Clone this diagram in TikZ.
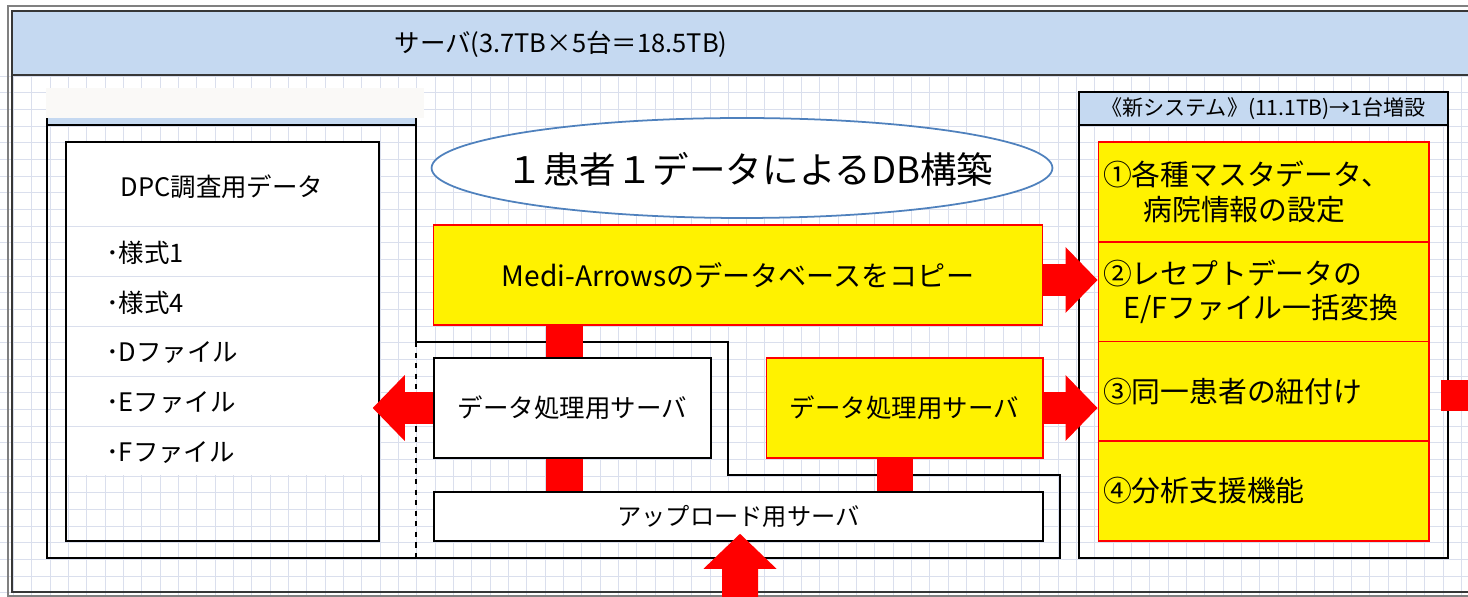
\documentclass[tikz,border=0pt]{standalone}
\usepackage{fontspec}
\setmainfont{Noto Sans CJK JP}
\usetikzlibrary{shapes.geometric,arrows.meta,calc}
\definecolor{hdrblue}{RGB}{197,217,241}
\definecolor{gridc}{RGB}{218,223,237}
\definecolor{ellblue}{RGB}{79,129,189}
\definecolor{framegray}{RGB}{55,55,55}
\definecolor{patch}{RGB}{250,249,247}

\begin{document}
\begin{tikzpicture}[x=0.02cm,y=-0.02cm,
        gridline/.style={draw=gridc,line width=0.5pt},
        box/.style={draw=black,line width=0.9pt,fill=white,minimum height=2cm,inner sep=0pt,font=\fontsize{14.5}{17}\selectfont},
        ybox/.style={box,draw=red,line width=0.6pt,fill=yellow},
        cell/.style={draw=red,line width=0.6pt,fill=yellow,minimum height=2cm,text width=6.42cm,inner xsep=1mm,inner ysep=0pt,align=left,font=\fontsize{16.4}{19.5}\selectfont},
        item/.style={anchor=west,font=\fontsize{14.5}{17}\selectfont},
        redbar/.style={draw=red,line width=7.3mm},
        bigarrow/.style={draw=red,line width=6.4mm,-{Triangle[length=6.4mm,width=13.2mm,line width=0pt]}}]
            \clip (0,0) rectangle (1468,597);
            \fill[white] (0,0) rectangle (1468,597);
            \foreach \gx in {0,...,80}
                \draw[gridline] ({13.4+18.33*\gx},76) -- ({13.4+18.33*\gx},600);
            \foreach \gy in {0,...,31}
                \draw[gridline] (0,{76+16.667*\gy}) -- (1468,{76+16.667*\gy});
            \fill[hdrblue] (12,11) rectangle (1490,75);
            \draw[framegray,line width=0.9pt] (12,75) -- (1490,75);
            \draw[gray,line width=0.6pt] (8,6) rectangle (1490,596);
            \draw[framegray,line width=1.2pt] (12,11) rectangle (1490,592);
            \node[font=\fontsize{14.5}{17}\selectfont] (title) at (561,44) {サーバ(3.7TB×5台＝18.5TB)};

            \draw[fill=hdrblue,line width=0.9pt] (47,92) rectangle (416,125);
            \fill[patch] (46,88) rectangle (424,118);
            \draw[line width=0.9pt] (47,125) -- (416,125) -- (416,342) -- (728,342) -- (728,475) -- (1060,475) -- (1060,558) -- (47,558) -- cycle;
            \draw[dashed,line width=0.6pt] (416,342) -- (416,558);

            \fill[white] (66,142) rectangle (379,475);
            \foreach \ry in {226,276,...,426}
                \draw[gridline] (67,\ry) -- (378,\ry);
            \node[draw,line width=0.9pt,minimum width=6.26cm,minimum height=7.98cm,inner sep=0pt] (dpc) at (222.5,341.5) {};
            \node[font=\fontsize{14.5}{17}\selectfont] (dpct) at (222,187) {DPC調査用データ};
            \foreach \t [count=\i] in {様式1,様式4,Dファイル,Eファイル,Fファイル}
                \node[item] (it\i) at (100,{203+50*\i}) {･\t};

            \node[ellipse,draw=ellblue,line width=1pt,fill=white,minimum width=12.42cm,minimum height=2cm,inner sep=0pt] (goal) at (742,168) {};
            \node[font=\fontsize{20.8}{24}\selectfont] (goalt) at (750,169) {１患者１データによるDB構築};
            \node[ybox,minimum width=12.2cm,font=\fontsize{16}{18}\selectfont] (medi) at (738,275) {Medi-Arrowsのデータベースをコピー};
            \node[box,minimum width=5.54cm] (proc1) at (572.5,408) {データ処理用サーバ};
            \node[ybox,minimum width=5.54cm] (proc2) at (904.5,408) {データ処理用サーバ};
            \node[box,minimum width=12.18cm,minimum height=0.98cm,font=\fontsize{13.8}{16}\selectfont] (upload) at (738.5,516.5) {アップロード用サーバ};

            \node[draw,line width=0.9pt,minimum width=7.38cm,minimum height=9.32cm,inner sep=0pt] (sys) at (1263.5,325) {};
            \node[draw,fill=hdrblue,line width=0.9pt,minimum width=7.38cm,minimum height=0.66cm,inner sep=0pt,font=\fontsize{12}{14}\selectfont] (sysh) at (1263.5,108.5) {《新システム》(11.1TB)→1台増設};
            \node[cell] (c1) at (1263.5,192) {①各種マスタデータ、\\\hspace*{1.4em}病院情報の設定};
            \node[cell] (c2) at (1263.5,292) {②レセプトデータの\\\hspace*{0.7em}E/Fファイル一括変換};
            \node[cell] (c3) at (1263.5,391.5) {③同一患者の紐付け};
            \node[cell] (c4) at (1263.5,491) {④分析支援機能};

            \draw[redbar] ($(proc1.north)+(-8,0)$) -- ($(proc1.north |- medi.south)+(-8,0)$);
            \draw[redbar] ($(proc1.south)+(-8,0)$) -- ($(proc1.south |- upload.north)+(-8,0)$);
            \draw[redbar] ($(proc2.south)+(-9.5,0)$) -- ($(proc2.south |- upload.north)+(-9.5,0)$);
            \draw[bigarrow] ($(medi.east)+(0,5)$) -- ($(medi.east -| c2.west)+(0,5)$);
            \draw[bigarrow] (proc2.east) -- (proc2.east -| c3.west);
            \draw[bigarrow] (proc1.west) -- ($(proc1.west -| dpc.east)+(-7,0)$);
            \coordinate (feed) at (740,610);
            \draw[bigarrow,line width=7.2mm,-{Triangle[length=7mm,width=14.6mm,line width=0pt]}] (feed) -- ($(upload.south)+(1.5,-8)$);
            \draw[redbar,line width=6.2mm] ($(sys.east |- c3.east)+(-8,4.5)$) -- ++(40,0);
        \end{tikzpicture}
\end{document}
